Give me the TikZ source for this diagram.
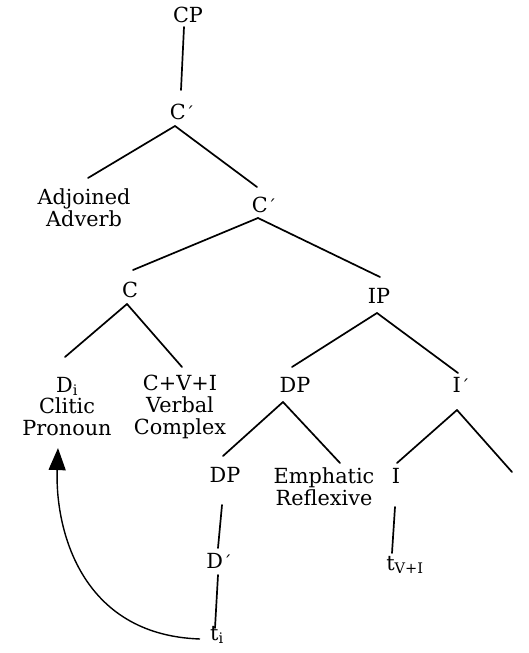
\documentclass[tikz,border=0pt]{standalone}
\usepackage{fontspec}
\setmainfont{DejaVu Serif}
\usetikzlibrary{arrows.meta}
% bar-level mark, a little smaller than the category letter
\newcommand{\barmark}{{\fontsize{17}{17}\selectfont ´}}
\begin{document}
\begin{tikzpicture}[x=1pt,y=-1pt,
  lbl/.style={inner sep=0pt, outer sep=0pt, font=\fontsize{20.8}{21.8}\selectfont, anchor=base},
  stack/.style={lbl, align=center, anchor=north},
  branch/.style={line width=1.7pt, line cap=round},
  movement/.style={line width=1.4pt, -{Triangle[length=22pt,width=17pt]}}]
\useasboundingbox (0,0) rectangle (528,653);

% tree labels
\node[lbl] (CP) at (188,22) {CP};
\node[lbl] (C1) at (182,119) {C\barmark};
\node[stack] (AA) at (84,189) {Adjoined\\Adverb};
\node[lbl] (C2) at (264,212) {C\barmark};
\node[lbl] (Cn) at (130,297) {C};
\node[lbl] (IP) at (379,303) {IP};
\node[stack] (Di) at (67,377) {D\textsubscript{i}\\Clitic\\Pronoun};
\node[stack] (CVI) at (180,375) {C+V+I\\Verbal\\Complex};
\node[lbl] (DP) at (295,392) {DP};
\node[lbl] (Ib) at (461,392) {I\barmark};
\node[lbl] (DP2) at (225,482) {DP};
\node[stack] (Emph) at (324,468) {Emphatic\\Reflexive};
\node[lbl] (I) at (396,483) {I};
\node[lbl] (Db) at (219,568) {D\barmark};
\node[lbl] (tVI) at (405,570) {t\textsubscript{V+I}};
\node[lbl] (ti) at (217,640) {t\textsubscript{i}};
\coordinate (Rt) at (512,472);

% branches
\draw[branch] ([shift={(-4,5)}]CP.base) -- ([shift={(-1,-29)}]C1.base);
\draw[branch] ([shift={(-7,7)}]C1.base) -- ([shift={(4,-11)}]AA.north);
\draw[branch] ([shift={(-7,7)}]C1.base) -- ([shift={(-7,-25)}]C2.base);
\draw[branch] ([shift={(-6,6)}]C2.base) -- ([shift={(3,-27)}]Cn.base);
\draw[branch] ([shift={(-6,6)}]C2.base) -- ([shift={(1,-26)}]IP.base);
\draw[branch] ([shift={(-3,7)}]Cn.base) -- ([shift={(-2,-20)}]Di.north);
\draw[branch] ([shift={(-3,7)}]Cn.base) -- ([shift={(2,-8)}]CVI.north);
\draw[branch] ([shift={(-2,10)}]IP.base) -- ([shift={(-3,-25)}]DP.base);
\draw[branch] ([shift={(-2,10)}]IP.base) -- ([shift={(-3,-19)}]Ib.base);
\draw[branch] ([shift={(-12,10)}]DP.base) -- ([shift={(-2,-26)}]DP2.base);
\draw[branch] ([shift={(-12,10)}]DP.base) -- ([shift={(16,-5)}]Emph.north);
\draw[branch] ([shift={(-4,18)}]Ib.base) -- ([shift={(1,-20)}]I.base);
\draw[branch] ([shift={(-4,18)}]Ib.base) -- (Rt);
\draw[branch] ([shift={(-3,23)}]DP2.base) -- ([shift={(-1,-20)}]Db.base);
\draw[branch] ([shift={(-1,7)}]Db.base) -- ([shift={(-2,-12)}]ti.base);
\draw[branch] ([shift={(-1,24)}]I.base) -- ([shift={(-13,-17)}]tVI.base);

% clitic movement
\draw[movement] ([shift={(-17,-1)}]ti.base) .. controls +(-120,-4) and +(-3,80) .. ([shift={(-9,12)}]Di.south);
\end{tikzpicture}
\end{document}
